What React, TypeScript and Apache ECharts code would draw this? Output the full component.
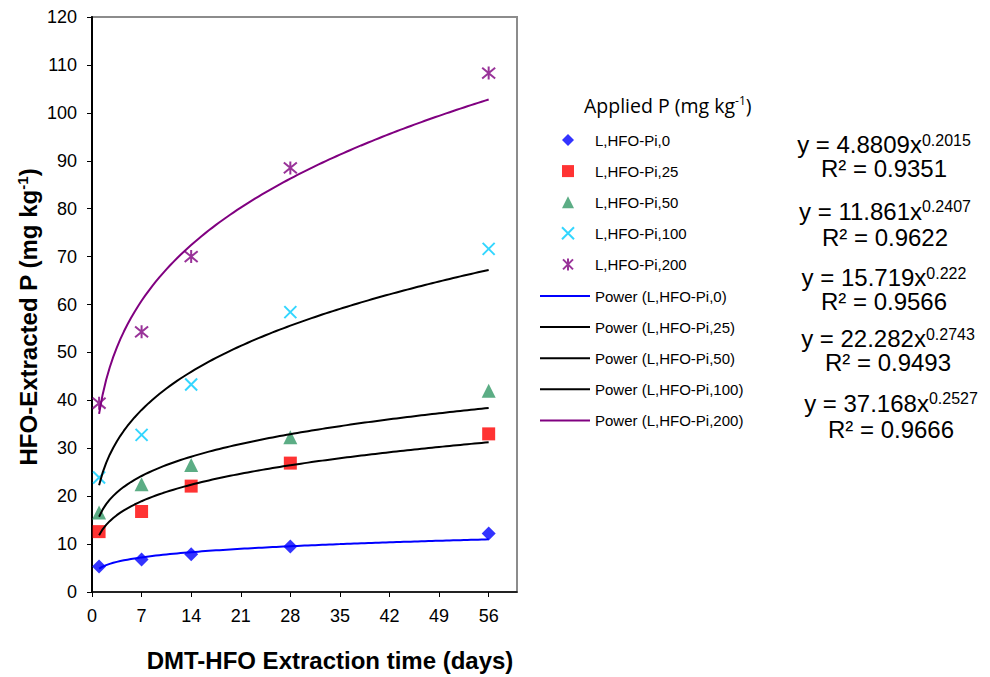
import React, { useEffect, useRef } from 'react';
import * as echarts from 'echarts';

// ---- data ----
const days = [1, 7, 14, 28, 56];
const seriesNames = ['L,HFO-Pi,0', 'L,HFO-Pi,25', 'L,HFO-Pi,50', 'L,HFO-Pi,100', 'L,HFO-Pi,200'];
const pi0 = [5.3, 6.8, 7.9, 9.5, 12.2];
const pi25 = [12.6, 16.8, 22.1, 26.9, 33.0];
const pi50 = [16.6, 22.5, 26.5, 32.3, 42.0];
const pi100 = [23.9, 32.8, 43.3, 58.4, 71.6];
const pi200 = [39.4, 54.3, 70.0, 88.5, 108.3];
const fitA = [4.8809, 11.861, 15.719, 22.282, 37.168];
const fitB = [0.2015, 0.2407, 0.222, 0.2743, 0.2527];
const fitAText = ['4.8809', '11.861', '15.719', '22.282', '37.168'];
const fitBText = ['0.2015', '0.2407', '0.222', '0.2743', '0.2527'];
const r2Text = ['0.9351', '0.9622', '0.9566', '0.9493', '0.9666'];
const xTicks = [0, 7, 14, 21, 28, 35, 42, 49, 56];
const yMin = 0;
const yMax = 120;
const yStep = 10;
const xMin = 0;
const xMax = 60;

const allValues = [pi0, pi25, pi50, pi100, pi200];
const trendNames = seriesNames.map((n) => `Power (${n})`);

// ---- styles ----
const FONT = "'Liberation Sans', Arial, sans-serif";
const markerColors = ['#0000ff', '#ff0000', '#339966', '#00ccff', '#800080'];
const lineColors = ['#0000ff', '#000000', '#000000', '#000000', '#800080'];
const markerSymbols = [
  'diamond',
  'rect',
  'triangle',
  'path://M0,0L10,10M10,0L0,10',
  'path://M0,0L10,10M10,0L0,10M5,-1L5,11',
];
const markerSizes = [14, 13, 14, 12, 13];
// [centre x, equation line y, R² line y]
const eqPos = [
  [884, 144, 168],
  [885, 211, 237],
  [884, 277, 301],
  [888, 338, 362],
  [891, 403, 429],
];

function trendPoints(a: number, b: number): number[][] {
  const pts: number[][] = [];
  for (let x = days[0]; x <= days[days.length - 1] + 1e-9; x += 0.5) {
    pts.push([x, a * Math.pow(x, b)]);
  }
  return pts;
}

const App = () => {
  const ref = useRef<HTMLDivElement>(null);
  useEffect(() => {
    const chart = echarts.init(ref.current!, null, { renderer: 'svg' });

    const scatterSeries = seriesNames.map((name, i) => {
      const hollow = i >= 3;
      return {
        type: 'scatter',
        name,
        data: days.map((d, j) => [d, allValues[i][j]]),
        symbol: markerSymbols[i],
        symbolSize: markerSizes[i],
        itemStyle: hollow
          ? { color: 'rgba(0,0,0,0)', borderColor: markerColors[i], borderWidth: 2 }
          : { color: markerColors[i] },
        emphasis: { disabled: true },
        z: 2,
      };
    });

    const lineSeries = seriesNames.map((name, i) => ({
      type: 'line',
      name: trendNames[i],
      data: trendPoints(fitA[i], fitB[i]),
      symbol: 'none',
      showSymbol: false,
      smooth: false,
      lineStyle: { color: lineColors[i], width: 2 },
      itemStyle: { color: lineColors[i] },
      emphasis: { disabled: true },
      z: 3,
    }));

    const eqGraphics: any[] = fitAText.map((a, i) => {
      const [cx, y1, y2] = eqPos[i];
      const lh = y2 - y1;
      return {
        type: 'text',
        x: cx,
        y: (y1 + y2) / 2,
        style: {
          text: `y = ${a}x{s|${fitBText[i]}}\nR² = ${r2Text[i]}`,
          fontSize: 24,
          fontFamily: FONT,
          fill: '#000',
          align: 'center',
          verticalAlign: 'middle',
          lineHeight: lh,
          rich: {
            s: { fontSize: 16, fontFamily: FONT, fill: '#000', lineHeight: 8, verticalAlign: 'top' },
          },
        },
      };
    });

    const option: any = {
      animation: false,
      backgroundColor: '#ffffff',
      grid: {
        left: 92,
        top: 17,
        right: 473,
        bottom: 85,
        show: true,
        borderColor: '#8c8c8c',
        borderWidth: 2,
        backgroundColor: 'rgba(0,0,0,0)',
        containLabel: false,
      },
      xAxis: {
        type: 'value',
        min: xMin,
        max: xMax,
        interval: 7,
        splitLine: { show: false },
        axisLine: { show: true, onZero: false, lineStyle: { color: '#000', width: 1.5 } },
        axisTick: { show: true, length: 5, lineStyle: { color: '#000' }, customValues: xTicks },
        axisLabel: {
          customValues: xTicks,
          fontSize: 18,
          fontFamily: FONT,
          color: '#000',
          margin: 15,
        },
      },
      yAxis: {
        type: 'value',
        min: yMin,
        max: yMax,
        interval: yStep,
        splitLine: { show: false },
        axisLine: { show: true, lineStyle: { color: '#000', width: 2 } },
        axisTick: { show: true, length: 5, lineStyle: { color: '#000' } },
        axisLabel: { fontSize: 18, fontFamily: FONT, color: '#000', margin: 15 },
      },
      legend: [
        {
          orient: 'vertical',
          left: 561,
          top: 132.5,
          padding: 0,
          itemWidth: 12,
          itemHeight: 12,
          itemGap: 16.1,
          selectedMode: false,
          textStyle: { fontSize: 15, fontFamily: FONT, color: '#000', padding: [0, 0, 0, 16] },
          data: seriesNames,
        },
        {
          orient: 'vertical',
          left: 540,
          top: 288.5,
          padding: 0,
          itemWidth: 50,
          itemHeight: 2,
          itemGap: 16.1,
          icon: 'rect',
          selectedMode: false,
          textStyle: { fontSize: 15, fontFamily: FONT, color: '#000' },
          data: trendNames,
        },
      ],
      graphic: [
        {
          type: 'text',
          x: 584,
          y: 105,
          style: {
            text: 'Applied P (mg kg{s|-1})',
            fontSize: 19.5,
            fontFamily: "'Open Sans', 'Noto Sans', sans-serif",
            fill: '#000',
            align: 'left',
            verticalAlign: 'middle',
            lineHeight: 22,
            rich: {
              s: { fontSize: 12, fontFamily: "'Open Sans', sans-serif", fill: '#000', lineHeight: 12, verticalAlign: 'top' },
            },
          },
        },
        {
          type: 'text',
          x: 28,
          y: 317,
          rotation: Math.PI / 2,
          style: {
            text: 'HFO-Extracted P (mg kg{s|-1})',
            fontSize: 24,
            fontWeight: 'bold',
            fontFamily: FONT,
            fill: '#000',
            align: 'center',
            verticalAlign: 'middle',
            lineHeight: 26,
            rich: {
              s: { fontSize: 15, fontWeight: 'bold', fontFamily: FONT, fill: '#000', lineHeight: 15, verticalAlign: 'top' },
            },
          },
        },
        {
          type: 'text',
          x: 330,
          y: 660,
          style: {
            text: 'DMT-HFO Extraction time (days)',
            fontSize: 24,
            fontWeight: 'bold',
            fontFamily: FONT,
            fill: '#000',
            align: 'center',
            verticalAlign: 'middle',
          },
        },
        ...eqGraphics,
      ],
      series: [...scatterSeries, ...lineSeries],
    };

    chart.setOption(option);
    return () => chart.dispose();
  }, []);

  return (
    <div
      ref={ref}
      style={{ position: 'absolute', left: 0, top: 0, width: 990, height: 677, background: '#fff' }}
    />
  );
};

export default App;
